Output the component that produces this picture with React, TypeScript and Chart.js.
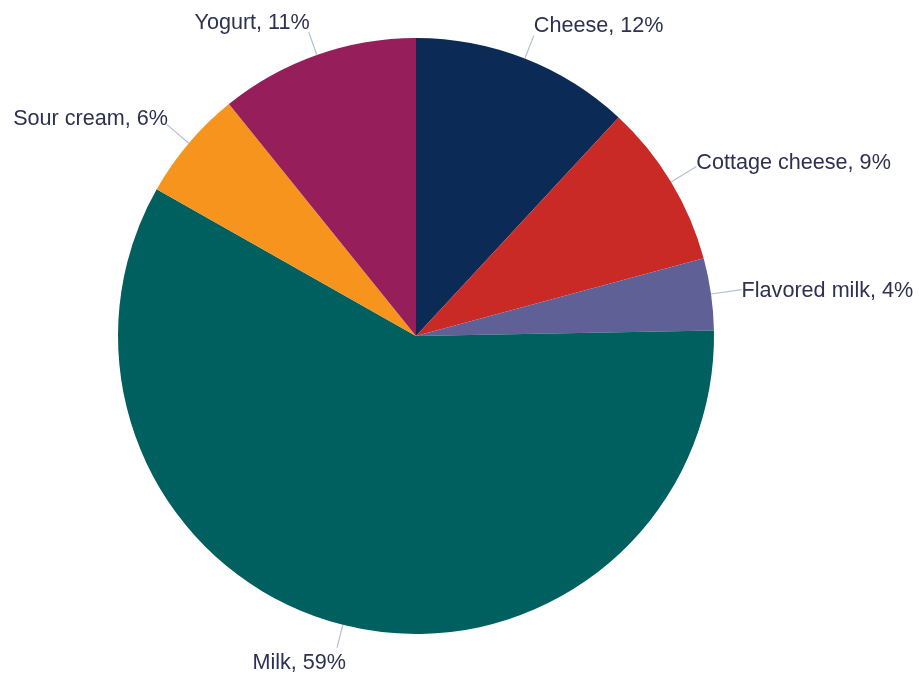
import React, { useEffect, useRef } from "react";
import { Chart, registerables } from "chart.js";

Chart.register(...registerables);

const categories = ["Cheese", "Cottage cheese", "Flavored milk", "Milk", "Sour cream", "Yogurt"];
const shares = [11.9, 8.9, 3.9, 58.5, 6.0, 10.8];
const percentLabels = ["12%", "9%", "4%", "59%", "6%", "11%"];
const sliceColors = ["#0b2a55", "#c92a26", "#5f6096", "#005f5f", "#f7941d", "#951e5b"];

const FONT = "21.6px 'Liberation Sans', Arial, sans-serif";
const TEXT_COLOR = "#2e3052";
const LINE_COLOR = "#b4bfd2";

const outsideLabels = {
  id: "outsideLabels",
  afterDatasetsDraw(chart: any) {
    const ctx = chart.ctx;
    const meta = chart.getDatasetMeta(0);
    ctx.save();
    ctx.font = FONT;
    ctx.textBaseline = "middle";
    meta.data.forEach((arc: any, i: number) => {
      const p = arc.getProps(["x", "y", "startAngle", "endAngle", "outerRadius"], true);
      const mid = (p.startAngle + p.endAngle) / 2;
      const c = Math.cos(mid);
      const s = Math.sin(mid);
      const ex = p.x + c * p.outerRadius;
      const ey = p.y + s * p.outerRadius;
      const len = 21 + 10 * Math.abs(c);
      const lx = ex + c * len;
      const ly = ey + s * len;
      ctx.strokeStyle = LINE_COLOR;
      ctx.lineWidth = 1.2;
      ctx.beginPath();
      ctx.moveTo(ex, ey);
      ctx.lineTo(lx, ly);
      ctx.stroke();
      const text = `${categories[i]}, ${percentLabels[i]}`;
      ctx.fillStyle = TEXT_COLOR;
      ctx.textAlign = c >= 0 ? "left" : "right";
      const shiftX = Math.abs(c) < 0.3 && s > 0 ? 8 : 0;
      const tx = lx + (c >= 0 ? 0 : 1) + shiftX;
      const ty = ly + s * 13 + 3;
      ctx.fillText(text, tx, ty);
    });
    ctx.restore();
  },
};

export default function App() {
  const ref = useRef<HTMLCanvasElement>(null);
  useEffect(() => {
    if (!ref.current) return;
    const chart = new Chart(ref.current, {
      type: "pie",
      data: {
        labels: categories,
        datasets: [
          {
            data: shares,
            backgroundColor: sliceColors,
            borderWidth: 0,
          },
        ],
      },
      options: {
        animation: false,
        responsive: false,
        maintainAspectRatio: false,
        layout: { padding: { left: 118, right: 205, top: 38, bottom: 43 } },
        plugins: {
          legend: { display: false },
          tooltip: { enabled: false },
        },
      },
      plugins: [outsideLabels],
    });
    return () => chart.destroy();
  }, []);
  return (
    <div style={{ position: "fixed", left: 0, top: 0, width: 919, height: 677, background: "#fff" }}>
      <canvas ref={ref} width={919} height={677} style={{ width: 919, height: 677 }} />
    </div>
  );
}
